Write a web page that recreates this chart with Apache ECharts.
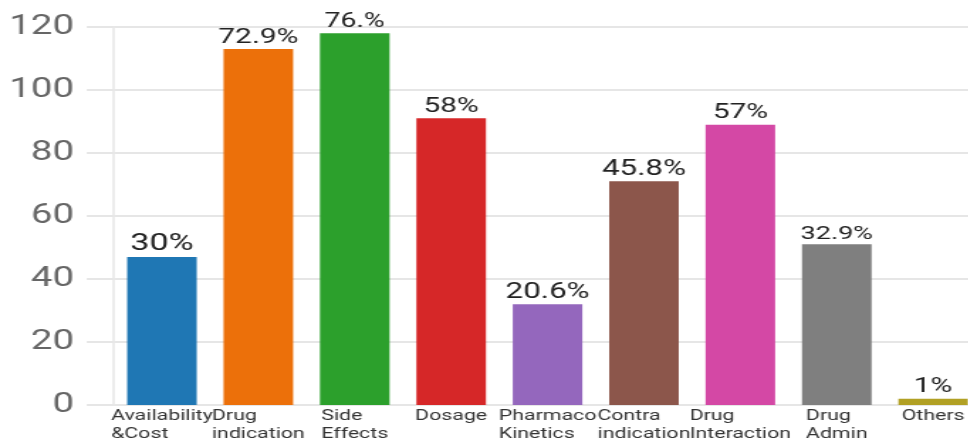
<!DOCTYPE html>
<html>
<head>
<meta charset="utf-8">
<script src="https://cdn.jsdelivr.net/npm/echarts@6/dist/echarts.min.js"></script>
<style>
    html, body { margin: 0; padding: 0; background: #fff; overflow: hidden; }
    /* the source picture is stretched sideways, so draw narrow and widen */
    #chart { width: 682px; height: 441px; transform: scaleX(1.42); transform-origin: 0 0; }
</style>
</head>
<body>
<div id="chart"></div>
<script>
const categories = [
    'Availability\n&Cost', 'Drug\nindication', 'Side\nEffects', 'Dosage',
    'Pharmaco\nKinetics', 'Contra\nindication', 'Drug\nInteraction', 'Drug\nAdmin', 'Others'
];
const counts = [47, 113, 118, 91, 32, 71, 89, 51, 2];
const percentLabels = ['30%', '72.9%', '76.%', '58%', '20.6%', '45.8%', '57%', '32.9%', '1%'];
const yTicks = [0, 20, 40, 60, 80, 100, 120];

const colors = ['#1f77b4', '#ec700a', '#2ca02c', '#d62728', '#9467bd', '#8c564b', '#d448a5', '#7f7f7f', '#b1a024'];
const labelSizes = [24, 21, 20, 21, 22, 22, 21, 19, 21];
const gridColor = '#e6e6e6';

const chart = echarts.init(document.getElementById('chart'), null, { renderer: 'canvas' });

chart.setOption({
    animation: false,
    textStyle: { fontFamily: 'Roboto' },
    // keep the plot where it is, labels may run to the edge
    grid: { left: 80.1, width: 611, top: 27, height: 378, outerBoundsMode: 'none' },
    xAxis: {
        type: 'category',
        data: categories,
        axisLine: { show: false },
        axisTick: { show: false },
        axisLabel: {
            interval: 0,
            margin: 2,
            // block centred under the bar, lines left aligned inside it
            formatter: function(value) {
                return value.split('\n').map(function(s) { return '{l|' + s + '}'; }).join('\n');
            },
            rich: {
                l: { fontSize: 15, lineHeight: 18, color: '#333', align: 'left' }
            }
        }
    },
    yAxis: {
        type: 'value',
        min: yTicks[0],
        max: yTicks[yTicks.length - 1],
        interval: 20,
        axisLine: { show: true, lineStyle: { color: gridColor, width: 1.5 } },
        axisTick: { show: true, length: 19, lineStyle: { color: gridColor, width: 2 } },
        splitLine: { lineStyle: { color: gridColor, width: 2 } },
        axisLabel: { fontSize: 27, color: '#666', margin: 28 }
    },
    series: [{
        type: 'bar',
        barWidth: 49,
        data: counts.map(function(v, i) {
            return {
                value: v,
                itemStyle: { color: colors[i] },
                label: { fontSize: labelSizes[i] }
            };
        }),
        label: {
            show: true,
            position: 'top',
            distance: 1,
            color: '#222',
            formatter: function(p) { return percentLabels[p.dataIndex]; }
        }
    }]
});
</script>
</body>
</html>
